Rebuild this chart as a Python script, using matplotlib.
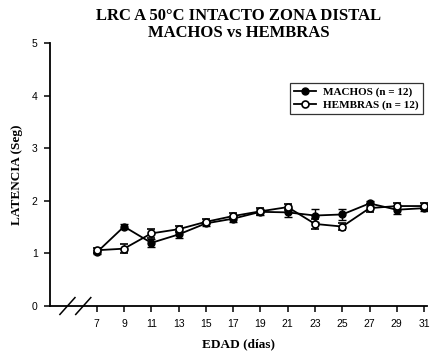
import matplotlib
matplotlib.use("Agg")
import matplotlib.pyplot as plt
from matplotlib.lines import Line2D
import numpy as np

# edad en dias
dias = [7, 9, 11, 13, 15, 17, 19, 21, 23, 25, 27, 29, 31]

machos = [1.02, 1.51, 1.20, 1.36, 1.57, 1.66, 1.79, 1.78, 1.72, 1.74, 1.95, 1.83, 1.86]
machos_err = [0.04, 0.05, 0.08, 0.07, 0.05, 0.06, 0.06, 0.08, 0.12, 0.10, 0.05, 0.08, 0.06]

hembras = [1.06, 1.09, 1.38, 1.46, 1.60, 1.71, 1.80, 1.88, 1.56, 1.51, 1.86, 1.90, 1.90]
hembras_err = [0.05, 0.08, 0.09, 0.06, 0.05, 0.05, 0.07, 0.06, 0.09, 0.07, 0.07, 0.05, 0.06]

serif = "Liberation Serif"
sans = "Liberation Sans"

fig = plt.figure(figsize=(4.32, 3.55), dpi=100)
ax = fig.add_axes([0.116, 0.138, 0.872, 0.741])

ax.errorbar(dias, machos, yerr=machos_err, color="black", lw=1.3, marker="o",
            ms=5, mfc="black", mec="black", capsize=3, elinewidth=1.0,
            capthick=1.0, zorder=3)
ax.errorbar(dias, hembras, yerr=hembras_err, color="black", lw=1.3, marker="o",
            ms=5, mfc="white", mec="black", mew=1.2, capsize=3, elinewidth=1.0,
            capthick=1.0, zorder=4)

ax.set_xlim(3.58, 31.2)
ax.set_ylim(0, 5)
ax.set_xticks(dias)
ax.set_yticks([0, 1, 2, 3, 4, 5])

for s in ["top", "right"]:
    ax.spines[s].set_visible(False)
ax.spines["left"].set_linewidth(1.3)
ax.spines["bottom"].set_linewidth(1.3)
ax.tick_params(direction="out", length=4, width=1.1, labelsize=7.5, pad=5)
for lab in ax.get_xticklabels() + ax.get_yticklabels():
    lab.set_fontfamily(sans)

# marcas de corte en el eje x
for xc in (0.046, 0.088):
    ax.plot([xc - 0.02, xc + 0.02], [-0.032, 0.032], transform=ax.transAxes,
            color="black", lw=1.1, clip_on=False)

ax.set_title("LRC A 50°C INTACTO ZONA DISTAL\nMACHOS vs HEMBRAS",
             fontfamily=serif, fontweight="bold", fontsize=12, linespacing=1.12, pad=4)
ax.set_xlabel("EDAD (días)", fontfamily=serif, fontweight="bold", fontsize=9.5, labelpad=7)
ax.set_ylabel("LATENCIA (Seg)", fontfamily=serif, fontweight="bold", fontsize=9.5, labelpad=6)

handles = [
    Line2D([], [], color="black", lw=1.3, marker="o", ms=5, mfc="black", mec="black"),
    Line2D([], [], color="black", lw=1.3, marker="o", ms=5, mfc="white", mec="black", mew=1.2),
]
leg = ax.legend(handles, ["MACHOS (n = 12)", "HEMBRAS (n = 12)"],
                loc="upper right", bbox_to_anchor=(0.989, 0.848), borderaxespad=0,
                frameon=True, fancybox=False, edgecolor="black", handlelength=2.0,
                prop={"family": serif, "weight": "bold", "size": 8},
                borderpad=0.35, labelspacing=0.25, handletextpad=0.6)
leg.get_frame().set_linewidth(0.9)

fig.savefig("out.png", dpi=100)
